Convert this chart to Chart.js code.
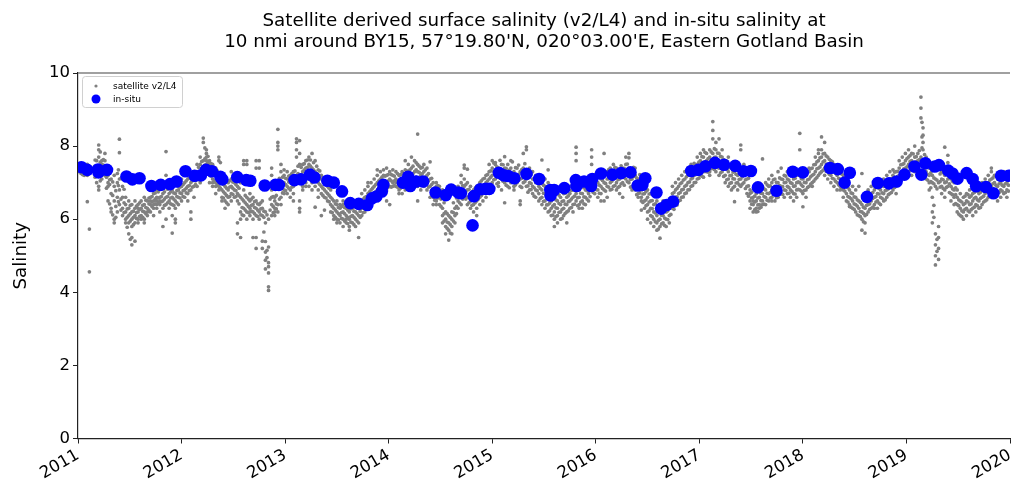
<!DOCTYPE html>
<html>
<head>
<meta charset="utf-8">
<script src="https://cdn.jsdelivr.net/npm/chart.js@4.4.1/dist/chart.umd.min.js"></script>
<style>
  html, body { margin: 0; padding: 0; background: #ffffff; }
  #wrap { width: 1011px; height: 480px; position: relative; }
  canvas { display: block; }
</style>
</head>
<body>
<div id="wrap"><canvas id="c" width="1011" height="480"></canvas></div>
<script>
// ---------------- DATA ----------------
const titleLines = [
  "Satellite derived surface salinity (v2/L4) and in-situ salinity at",
  "10 nmi around BY15, 57°19.80'N, 020°03.00'E, Eastern Gotland Basin"
];
const yLabel = "Salinity";
const seriesNames = ["satellite v2/L4", "in-situ"];
const yearTicks = [2011, 2012, 2013, 2014, 2015, 2016, 2017, 2018, 2019, 2020];
const yTicks = [0, 2, 4, 6, 8, 10];

// in-situ observations: decimal year, salinity
const insituTime = [
  2011.034, 2011.090, 2011.193, 2011.198, 2011.280, 2011.468, 2011.525, 2011.594, 2011.709, 2011.799,
  2011.888, 2011.951, 2012.038, 2012.126, 2012.187, 2012.236, 2012.293, 2012.375, 2012.394, 2012.538,
  2012.625, 2012.664, 2012.803, 2012.906, 2012.940, 2013.090, 2013.153, 2013.239, 2013.283, 2013.408,
  2013.470, 2013.549, 2013.629, 2013.711, 2013.794, 2013.838, 2013.881, 2013.934, 2013.949, 2014.137,
  2014.188, 2014.209, 2014.265, 2014.333, 2014.453, 2014.552, 2014.603, 2014.673, 2014.697, 2014.810,
  2014.822, 2014.885, 2014.938, 2014.972, 2015.064, 2015.112, 2015.154, 2015.213, 2015.331, 2015.453,
  2015.561, 2015.563, 2015.598, 2015.696, 2015.807, 2015.814, 2015.887, 2015.955, 2015.966, 2016.051,
  2016.161, 2016.244, 2016.335, 2016.405, 2016.450, 2016.478, 2016.586, 2016.631, 2016.683, 2016.746,
  2016.922, 2016.990, 2017.059, 2017.151, 2017.238, 2017.346, 2017.426, 2017.498, 2017.566, 2017.745,
  2017.902, 2017.999, 2018.263, 2018.337, 2018.403, 2018.453, 2018.619, 2018.724, 2018.831, 2018.905,
  2018.981, 2019.077, 2019.144, 2019.183, 2019.274, 2019.314, 2019.403, 2019.444, 2019.493, 2019.581,
  2019.639, 2019.673, 2019.767, 2019.840, 2019.914, 2019.987
];
const insituSal = [
  7.42, 7.35, 7.36, 7.28, 7.35, 7.17, 7.09, 7.12, 6.91, 6.94,
  6.96, 7.03, 7.31, 7.19, 7.20, 7.35, 7.31, 7.16, 7.09, 7.15,
  7.07, 7.05, 6.92, 6.94, 6.94, 7.07, 7.09, 7.22, 7.14, 7.05,
  7.00, 6.76, 6.44, 6.42, 6.39, 6.57, 6.62, 6.76, 6.94, 7.00,
  7.16, 6.91, 7.03, 7.03, 6.73, 6.66, 6.81, 6.73, 6.71, 5.83,
  6.63, 6.82, 6.83, 6.83, 7.27, 7.20, 7.18, 7.12, 7.24, 7.10,
  6.80, 6.65, 6.80, 6.85, 7.07, 6.91, 7.03, 6.91, 7.10, 7.25,
  7.22, 7.26, 7.28, 6.92, 6.94, 7.12, 6.73, 6.29, 6.39, 6.48,
  7.32, 7.35, 7.45, 7.54, 7.49, 7.46, 7.31, 7.32, 6.87, 6.78,
  7.30, 7.28, 7.40, 7.37, 7.00, 7.27, 6.61, 6.99, 6.98, 7.03,
  7.22, 7.44, 7.22, 7.53, 7.44, 7.48, 7.33, 7.25, 7.11, 7.26,
  7.10, 6.90, 6.88, 6.71, 7.19, 7.19
];

// satellite values: [decimal year, values seen around that date...]
const sat2011 = [
  [2011.00, 7.40, 7.30, 7.50], [2011.03, 7.35, 7.45, 7.25], [2011.06, 7.30, 7.40, 7.20],
  [2011.09, 7.35, 7.20, 7.50, 6.48], [2011.11, 4.56, 5.73, 7.30], [2011.18, 7.40, 7.20, 7.60, 7.00],
  [2011.20, 7.90, 8.03, 7.70, 7.30, 6.80, 6.90], [2011.23, 7.50, 7.30, 7.10, 7.60], [2011.26, 7.40, 7.60, 7.20, 7.80],
  [2011.29, 7.00, 6.90, 7.20, 6.50], [2011.32, 7.10, 6.70, 6.30, 6.20], [2011.35, 6.90, 6.50, 6.00, 5.90, 7.20],
  [2011.38, 7.00, 6.60, 6.20, 7.25], [2011.40, 8.19, 7.82, 7.10, 6.80, 6.40], [2011.43, 6.90, 6.60, 6.30, 6.10, 7.10],
  [2011.46, 6.20, 6.40, 6.00, 6.60, 5.90], [2011.49, 6.10, 5.90, 6.30, 5.60, 6.50], [2011.52, 6.00, 6.20, 5.50, 5.30, 6.40, 5.80],
  [2011.55, 6.10, 6.30, 5.90, 5.40, 6.50], [2011.58, 6.20, 6.00, 6.40, 6.30, 5.90], [2011.61, 6.10, 6.30, 6.50, 6.00],
  [2011.64, 6.20, 6.40, 6.00, 6.60, 5.90], [2011.67, 6.30, 6.10, 6.50, 6.20], [2011.70, 6.40, 6.60, 6.20, 6.50, 6.80],
  [2011.73, 6.50, 6.30, 6.70, 6.40, 6.10], [2011.76, 6.50, 6.60, 6.40, 6.80, 6.30], [2011.79, 6.60, 6.40, 6.50, 7.00, 6.20],
  [2011.82, 6.50, 6.70, 6.30, 6.90, 5.80], [2011.85, 7.85, 7.20, 6.60, 6.40, 6.00], [2011.88, 6.70, 6.50, 6.90, 6.30],
  [2011.91, 6.60, 6.40, 5.62, 6.80, 6.10], [2011.94, 6.50, 6.70, 6.30, 5.90, 6.00], [2011.97, 6.60, 6.80, 6.40, 6.90],
  [2011.015, 7.38, 7.46], [2011.045, 7.32, 7.41, 7.22], [2011.075, 7.36, 7.27], [2011.14, 7.33],
  [2011.165, 7.45, 7.15, 7.62], [2011.215, 7.56, 7.84, 7.05, 7.42], [2011.245, 7.63, 7.27, 7.48], [2011.275, 7.15, 6.85, 7.38],
  [2011.305, 6.95, 6.42, 7.08], [2011.335, 6.65, 6.12, 7.02], [2011.365, 6.78, 6.35, 6.05], [2011.39, 7.35, 6.92, 6.48],
  [2011.415, 7.12, 6.55, 6.25], [2011.445, 6.45, 6.18, 6.82], [2011.475, 6.28, 6.05, 5.78], [2011.505, 6.15, 5.95, 6.38, 5.45],
  [2011.535, 6.22, 6.05, 5.85], [2011.565, 6.18, 6.36, 6.02], [2011.595, 6.27, 6.08, 6.45], [2011.625, 6.22, 6.38, 6.05],
  [2011.655, 6.32, 6.15, 6.52], [2011.685, 6.42, 6.25, 6.58], [2011.715, 6.48, 6.62, 6.35], [2011.745, 6.55, 6.42, 6.72],
  [2011.775, 6.58, 6.45, 6.75], [2011.805, 6.62, 6.48, 6.85], [2011.835, 6.55, 6.75, 6.38], [2011.865, 6.62, 6.82, 6.45],
  [2011.895, 6.58, 6.75, 6.42], [2011.925, 6.55, 6.72, 6.38], [2011.955, 6.62, 6.78, 6.45], [2011.985, 6.72, 6.88, 6.58]
];
const sat2012 = [
  [2012.00, 6.70, 6.90, 6.50, 7.10], [2012.03, 6.80, 6.60, 7.00, 7.20], [2012.06, 6.90, 7.10, 6.70, 6.50],
  [2012.09, 7.00, 6.80, 6.00, 6.20, 7.20], [2012.12, 7.10, 6.90, 7.30, 6.60], [2012.15, 7.10, 7.30, 6.90, 7.50],
  [2012.18, 7.30, 7.50, 7.20, 7.70, 7.00], [2012.21, 8.22, 8.10, 7.40, 7.60, 7.30], [2012.24, 7.90, 7.80, 7.50, 7.60, 7.30, 7.70],
  [2012.27, 7.40, 7.60, 7.20, 7.00, 7.50], [2012.30, 7.30, 7.10, 7.50, 6.90, 7.00], [2012.33, 7.20, 7.00, 6.90, 6.70, 7.40],
  [2012.36, 7.10, 6.90, 6.80, 7.60, 7.70], [2012.39, 7.00, 6.80, 6.60, 6.50, 7.20], [2012.42, 6.90, 6.70, 6.50, 6.30, 7.10],
  [2012.45, 6.80, 7.00, 6.60, 6.40], [2012.48, 6.90, 7.10, 6.70, 6.50, 7.30], [2012.51, 6.80, 7.00, 7.20, 6.60],
  [2012.54, 6.70, 6.90, 7.10, 6.50, 5.90, 5.60], [2012.57, 6.60, 6.20, 6.00, 5.50, 7.00], [2012.60, 6.50, 6.30, 6.10, 7.50, 7.60, 6.80],
  [2012.63, 6.40, 6.20, 6.60, 7.50, 7.60, 6.00], [2012.66, 6.30, 6.50, 6.10, 6.70, 6.20], [2012.69, 6.40, 6.20, 6.60, 6.00, 5.50],
  [2012.72, 6.30, 6.10, 5.50, 5.20, 6.50, 7.40, 7.60], [2012.75, 6.20, 6.40, 6.00, 7.40, 7.60], [2012.78, 6.30, 6.10, 6.50, 5.40, 5.20],
  [2012.81, 6.20, 5.90, 5.10, 4.88, 4.64, 5.39], [2012.84, 4.81, 4.70, 4.53, 4.15, 4.05, 5.24, 6.00], [2012.87, 6.40, 6.80, 7.20, 7.40, 6.10, 6.60],
  [2012.90, 6.30, 6.50, 6.10, 6.20, 6.60], [2012.93, 8.46, 8.10, 8.00, 7.90, 6.40, 6.20], [2012.96, 7.50, 7.30, 6.90, 6.60, 6.40],
  [2012.99, 6.80, 7.00, 7.20, 6.70, 7.35],
  [2012.015, 6.78, 6.95, 6.62], [2012.045, 6.85, 7.05, 6.72], [2012.075, 6.92, 7.12, 6.78], [2012.105, 7.05, 6.88, 7.22],
  [2012.135, 7.05, 7.22, 6.95], [2012.165, 7.22, 7.42, 7.08], [2012.195, 7.38, 7.58, 7.25], [2012.225, 7.48, 7.65, 7.35, 7.95],
  [2012.255, 7.55, 7.42, 7.72], [2012.285, 7.35, 7.18, 7.52], [2012.315, 7.25, 7.05, 7.42], [2012.345, 7.15, 6.95, 7.32],
  [2012.375, 7.05, 6.85, 7.55], [2012.405, 6.95, 6.75, 6.58], [2012.435, 6.85, 6.65, 6.45], [2012.465, 6.88, 7.05, 6.62],
  [2012.495, 6.85, 7.02, 6.68], [2012.525, 6.78, 6.95, 6.62], [2012.555, 6.65, 6.42, 6.85], [2012.585, 6.55, 6.32, 6.12],
  [2012.615, 6.45, 6.25, 6.65], [2012.645, 6.35, 6.18, 6.55], [2012.675, 6.38, 6.22, 6.55], [2012.705, 6.32, 6.15, 6.48],
  [2012.735, 6.25, 6.42, 6.08], [2012.765, 6.28, 6.12, 6.45], [2012.795, 6.22, 6.05, 5.65], [2012.825, 5.15, 4.95, 6.12],
  [2012.855, 6.25, 6.55, 6.95], [2012.885, 6.35, 6.62, 6.18], [2012.915, 6.42, 6.28, 6.65], [2012.945, 6.88, 6.55, 7.12],
  [2012.975, 6.95, 6.72, 7.15]
];
const sat2013 = [
  [2013.02, 6.90, 7.10, 6.70, 7.30], [2013.05, 7.00, 6.80, 7.20, 6.60], [2013.08, 7.10, 6.90, 7.30, 6.70, 6.50],
  [2013.11, 8.20, 8.10, 7.90, 7.70, 7.20, 7.00], [2013.14, 8.15, 7.80, 7.50, 7.10, 6.30, 6.50, 6.20], [2013.17, 7.30, 7.10, 6.90, 7.50, 6.80],
  [2013.20, 7.40, 7.20, 7.00, 6.90, 7.60], [2013.23, 7.50, 7.30, 7.10, 7.70, 6.90], [2013.26, 7.40, 7.20, 7.00, 7.80, 6.80],
  [2013.29, 7.30, 7.10, 6.90, 7.60, 6.33], [2013.32, 7.20, 7.00, 6.80, 7.35, 6.60], [2013.35, 7.10, 6.90, 6.70, 7.20, 6.10],
  [2013.38, 7.00, 6.80, 6.60, 6.25], [2013.41, 6.90, 6.70, 7.10, 6.50], [2013.44, 6.40, 6.20, 6.60, 6.80],
  [2013.47, 6.30, 6.10, 6.50, 6.00], [2013.50, 6.20, 6.00, 6.40, 5.90, 6.50], [2013.53, 6.10, 6.30, 5.90, 6.40],
  [2013.56, 6.20, 6.00, 6.40, 5.80, 6.50], [2013.59, 6.10, 5.90, 6.30, 6.00], [2013.62, 6.00, 6.20, 5.80, 6.40, 5.70],
  [2013.65, 6.10, 6.30, 5.90, 6.50], [2013.68, 6.00, 6.20, 5.80, 6.40], [2013.71, 6.10, 5.50, 5.90, 6.30],
  [2013.74, 6.30, 6.50, 6.10, 6.70], [2013.77, 6.40, 6.60, 6.80, 6.20], [2013.80, 6.50, 6.70, 6.90, 6.30, 7.00],
  [2013.83, 6.60, 6.80, 7.00, 6.40], [2013.86, 6.70, 6.90, 7.10, 6.50], [2013.89, 6.80, 7.00, 7.20, 6.60, 7.35],
  [2013.92, 6.90, 7.10, 7.30, 6.70], [2013.95, 7.00, 6.90, 7.20, 7.35], [2013.98, 7.00, 7.20, 6.80, 7.40, 6.50],
  [2013.005, 6.95, 7.12, 6.78], [2013.035, 7.02, 6.85, 7.18], [2013.065, 7.05, 6.88, 7.25], [2013.095, 7.15, 6.95, 7.32],
  [2013.125, 7.25, 7.05, 7.45], [2013.155, 7.22, 7.05, 7.42], [2013.185, 7.35, 7.15, 7.52], [2013.215, 7.42, 7.22, 7.62],
  [2013.245, 7.45, 7.25, 7.62], [2013.275, 7.35, 7.15, 7.55], [2013.305, 7.25, 7.05, 7.45], [2013.335, 7.15, 6.95, 7.32],
  [2013.365, 7.05, 6.85, 6.65], [2013.395, 6.95, 6.75, 6.58], [2013.425, 6.65, 6.48, 6.85], [2013.455, 6.35, 6.18, 6.55],
  [2013.485, 6.25, 6.05, 6.42], [2013.515, 6.15, 5.98, 6.32], [2013.545, 6.18, 6.02, 6.35], [2013.575, 6.15, 5.95, 6.32],
  [2013.605, 6.05, 5.88, 6.25], [2013.635, 6.08, 5.92, 6.28], [2013.665, 6.05, 5.85, 6.22], [2013.695, 6.15, 5.95, 6.35],
  [2013.725, 6.22, 6.05, 6.42], [2013.755, 6.35, 6.18, 6.55], [2013.785, 6.45, 6.62, 6.28], [2013.815, 6.55, 6.75, 6.38],
  [2013.845, 6.65, 6.85, 6.48], [2013.875, 6.75, 6.95, 6.58], [2013.905, 6.85, 7.05, 6.68], [2013.935, 6.95, 7.15, 6.78],
  [2013.965, 7.02, 7.18, 6.85], [2013.995, 7.05, 7.22, 6.88]
];
const sat2014 = [
  [2014.01, 7.10, 6.90, 7.30, 6.40], [2014.04, 7.00, 7.20, 6.90, 7.35], [2014.07, 7.10, 6.90, 7.30, 7.00],
  [2014.10, 7.00, 7.20, 6.80, 6.70], [2014.13, 7.10, 6.90, 7.30, 6.70], [2014.16, 7.00, 7.20, 6.80, 7.35, 7.60],
  [2014.19, 7.10, 6.90, 7.30, 7.50], [2014.22, 7.70, 7.20, 7.00, 6.80, 7.40], [2014.25, 7.60, 7.30, 7.10, 6.90],
  [2014.28, 8.33, 7.50, 7.30, 7.10, 6.90, 6.50], [2014.31, 7.40, 7.20, 7.00, 6.80], [2014.34, 7.30, 7.10, 6.90, 7.50],
  [2014.37, 7.20, 7.00, 6.80, 7.40], [2014.40, 7.10, 6.90, 7.57, 6.60], [2014.43, 7.00, 6.80, 6.60, 6.40],
  [2014.46, 6.90, 6.70, 6.50, 6.40, 7.00], [2014.49, 6.80, 6.60, 6.40, 6.90], [2014.52, 6.30, 6.10, 5.90, 6.60, 6.80],
  [2014.55, 6.00, 5.80, 5.60, 6.20, 6.70], [2014.58, 5.90, 5.70, 5.43, 6.10, 6.60], [2014.61, 5.80, 6.00, 5.60, 6.20, 6.80],
  [2014.64, 6.10, 5.90, 6.30, 6.70], [2014.67, 6.50, 6.70, 6.90, 6.30], [2014.70, 6.60, 6.80, 7.00, 6.40, 7.20],
  [2014.73, 6.70, 6.90, 7.10, 7.40, 7.48], [2014.76, 6.60, 6.80, 7.00, 6.40, 7.37], [2014.79, 6.50, 6.70, 6.90, 6.30],
  [2014.82, 6.60, 6.80, 6.40, 6.20], [2014.85, 6.70, 6.90, 6.50, 6.30, 6.10], [2014.88, 6.80, 6.60, 7.00, 6.40],
  [2014.91, 6.90, 6.70, 7.10, 6.50], [2014.94, 7.00, 6.80, 7.20, 6.60], [2014.97, 7.10, 6.90, 7.30, 7.50],
  [2014.025, 7.05, 7.22, 6.88], [2014.055, 7.05, 7.18, 6.92], [2014.085, 7.05, 7.25, 6.88], [2014.115, 7.05, 7.22, 6.85],
  [2014.145, 7.05, 7.25, 6.88], [2014.175, 7.15, 7.32, 6.95], [2014.205, 7.15, 7.35, 6.98], [2014.235, 7.25, 7.45, 7.05],
  [2014.265, 7.35, 7.15, 7.55], [2014.295, 7.28, 7.08, 7.45], [2014.325, 7.25, 7.05, 7.42], [2014.355, 7.15, 6.95, 7.35],
  [2014.385, 7.05, 6.88, 7.25], [2014.415, 6.95, 6.78, 7.12], [2014.445, 6.85, 6.68, 6.52], [2014.475, 6.75, 6.58, 6.92],
  [2014.505, 6.55, 6.35, 6.75], [2014.535, 6.15, 5.95, 6.45], [2014.565, 5.92, 5.75, 6.15], [2014.595, 5.85, 5.62, 6.05],
  [2014.625, 5.95, 6.18, 6.45], [2014.655, 6.35, 6.58, 6.15], [2014.685, 6.62, 6.82, 6.45], [2014.715, 6.72, 6.92, 6.55],
  [2014.745, 6.75, 6.95, 6.55], [2014.775, 6.62, 6.82, 6.45], [2014.805, 6.55, 6.75, 6.38], [2014.835, 6.65, 6.85, 6.45],
  [2014.865, 6.75, 6.92, 6.55], [2014.895, 6.85, 7.05, 6.65], [2014.925, 6.95, 7.12, 6.75], [2014.955, 7.05, 7.22, 6.85],
  [2014.985, 7.15, 7.32, 6.95]
];
const sat2015 = [
  [2015.00, 7.20, 7.00, 7.40, 7.60], [2015.03, 7.30, 7.10, 7.50, 7.55], [2015.06, 7.20, 7.00, 7.40, 6.90],
  [2015.09, 7.30, 7.10, 7.50, 6.80], [2015.12, 7.20, 7.00, 7.40, 7.71, 6.45], [2015.15, 7.10, 6.90, 7.30, 7.50],
  [2015.18, 7.20, 7.00, 7.40, 7.60], [2015.21, 7.10, 6.90, 7.30, 6.80], [2015.24, 7.20, 7.00, 7.40, 7.10],
  [2015.27, 7.10, 6.90, 7.30, 6.50, 6.40], [2015.30, 7.20, 7.00, 7.40, 7.80], [2015.33, 7.10, 6.90, 7.30, 7.98, 7.90],
  [2015.36, 7.00, 6.80, 7.20, 7.40], [2015.39, 6.90, 7.10, 6.70, 7.30], [2015.42, 7.00, 6.80, 6.60, 7.20],
  [2015.45, 6.90, 6.70, 7.10, 6.50], [2015.48, 6.80, 7.00, 6.60, 7.62, 6.40], [2015.51, 6.70, 6.90, 6.50, 7.10, 6.30],
  [2015.54, 6.60, 6.80, 6.40, 7.00, 6.20, 7.35], [2015.57, 6.50, 6.70, 6.30, 6.10, 6.90], [2015.60, 6.40, 6.60, 6.20, 6.00, 5.80],
  [2015.63, 6.30, 6.50, 6.10, 5.90, 6.70], [2015.66, 6.40, 6.60, 6.20, 6.00, 6.80], [2015.69, 6.30, 6.50, 6.70, 6.10],
  [2015.72, 6.40, 6.60, 6.80, 6.20, 5.90], [2015.75, 6.50, 6.70, 6.30, 6.90], [2015.78, 6.60, 6.40, 6.80, 6.20],
  [2015.81, 7.97, 7.80, 7.60, 6.70, 6.50, 6.90], [2015.84, 6.60, 6.80, 6.40, 7.00, 6.30], [2015.87, 6.70, 6.90, 6.50, 6.30],
  [2015.90, 6.60, 6.80, 6.40, 7.00], [2015.93, 6.70, 6.90, 6.50, 7.10], [2015.96, 7.90, 7.70, 7.50, 6.80, 7.00],
  [2015.99, 6.90, 7.10, 6.70, 7.20],
  [2015.015, 7.31, 7.08, 7.54], [2015.045, 7.19, 7.43, 6.97], [2015.075, 7.36, 7.12, 7.61], [2015.105, 7.04, 7.27, 7.49],
  [2015.135, 7.21, 6.93, 7.39], [2015.165, 7.11, 7.34, 6.86], [2015.195, 7.26, 7.02, 7.57], [2015.225, 6.94, 7.17, 7.41],
  [2015.255, 7.23, 7.06, 7.48], [2015.285, 7.12, 6.87, 7.36], [2015.315, 7.03, 7.27, 7.52], [2015.345, 7.14, 6.91, 6.74],
  [2015.375, 6.98, 7.22, 6.81], [2015.405, 6.86, 7.09, 6.63], [2015.435, 7.01, 6.78, 7.19], [2015.465, 6.84, 6.57, 7.08],
  [2015.495, 6.71, 6.93, 6.49], [2015.525, 6.62, 6.39, 6.88], [2015.555, 6.44, 6.71, 6.23], [2015.585, 6.36, 6.58, 6.11],
  [2015.615, 6.31, 6.07, 6.53], [2015.645, 6.43, 6.19, 6.66], [2015.675, 6.27, 6.49, 6.02], [2015.705, 6.41, 6.16, 6.71],
  [2015.735, 6.48, 6.23, 6.64], [2015.765, 6.55, 6.32, 6.79], [2015.795, 6.63, 6.41, 6.87], [2015.825, 6.59, 6.82, 6.37],
  [2015.855, 6.71, 6.47, 6.94], [2015.885, 6.61, 6.86, 6.42], [2015.915, 6.78, 6.55, 7.03], [2015.945, 6.84, 6.62, 7.09],
  [2015.975, 6.97, 6.73, 7.19]
];
const sat2016 = [
  [2016.02, 7.00, 6.80, 7.20, 6.60], [2016.05, 6.90, 7.10, 6.70, 6.50], [2016.08, 7.00, 6.80, 7.20, 6.50, 7.80],
  [2016.11, 7.10, 6.90, 7.30, 6.60], [2016.14, 7.00, 7.20, 6.80, 7.40], [2016.17, 7.10, 6.90, 7.30, 7.50],
  [2016.20, 7.00, 7.20, 7.40, 6.80], [2016.23, 7.10, 7.30, 6.90, 6.70], [2016.26, 7.20, 7.00, 7.40, 6.60],
  [2016.29, 7.30, 7.10, 7.50, 7.70], [2016.32, 7.20, 7.00, 7.40, 7.80, 7.68], [2016.35, 7.10, 6.90, 7.30, 6.80],
  [2016.38, 7.00, 6.80, 7.20, 7.40], [2016.41, 6.90, 7.10, 6.70, 6.60], [2016.44, 6.80, 7.00, 6.60, 6.50, 6.25],
  [2016.47, 6.70, 6.90, 6.50, 6.30], [2016.50, 6.60, 6.40, 6.20, 6.00, 6.80], [2016.53, 6.50, 6.30, 6.10, 5.90, 6.70],
  [2016.56, 6.20, 6.00, 5.80, 6.40], [2016.59, 6.10, 5.90, 5.70, 6.30, 6.50], [2016.62, 6.00, 5.80, 5.48, 6.20, 6.40],
  [2016.65, 6.10, 5.90, 6.30, 6.50], [2016.68, 6.20, 6.00, 6.40, 5.80], [2016.71, 6.30, 6.10, 6.50, 5.90],
  [2016.74, 6.50, 6.70, 6.30, 6.90], [2016.77, 6.60, 6.80, 6.40, 7.00], [2016.80, 6.70, 6.90, 7.10, 6.50],
  [2016.83, 6.80, 7.00, 7.20, 6.60], [2016.86, 6.90, 7.10, 7.30, 6.70], [2016.89, 7.00, 7.20, 7.40, 6.80],
  [2016.92, 7.10, 7.30, 7.50, 6.90], [2016.95, 7.20, 7.40, 7.53, 7.00], [2016.98, 7.30, 7.50, 7.70, 7.10],
  [2016.005, 7.03, 6.81, 7.26], [2016.035, 6.93, 7.16, 6.71], [2016.065, 7.06, 6.84, 7.31], [2016.095, 6.98, 7.22, 6.77],
  [2016.125, 7.11, 6.88, 7.36], [2016.155, 7.04, 7.28, 6.82], [2016.185, 7.14, 6.92, 7.42], [2016.215, 7.08, 7.33, 6.87],
  [2016.245, 7.21, 6.97, 7.46], [2016.275, 7.14, 7.39, 6.93], [2016.305, 7.28, 7.03, 7.51], [2016.335, 7.09, 7.34, 6.88],
  [2016.365, 7.17, 6.94, 7.42], [2016.395, 6.89, 7.13, 6.67], [2016.425, 6.96, 6.72, 7.22], [2016.455, 6.69, 6.93, 6.46],
  [2016.485, 6.76, 6.53, 6.37], [2016.515, 6.47, 6.23, 6.69], [2016.545, 6.29, 6.07, 6.51], [2016.575, 6.17, 5.93, 6.42],
  [2016.605, 5.97, 6.22, 5.73], [2016.635, 6.11, 5.87, 6.37], [2016.665, 6.03, 6.26, 5.83], [2016.695, 6.23, 6.47, 5.99],
  [2016.725, 6.37, 6.59, 6.13], [2016.755, 6.49, 6.73, 6.27], [2016.785, 6.61, 6.84, 6.39], [2016.815, 6.73, 6.97, 6.52],
  [2016.845, 6.82, 7.07, 6.61], [2016.875, 6.93, 7.16, 6.72], [2016.905, 7.02, 7.28, 6.81], [2016.935, 7.13, 7.36, 6.92],
  [2016.965, 7.22, 7.47, 7.01], [2016.995, 7.33, 7.56, 7.12]
];
const sat2017 = [
  [2017.01, 7.40, 7.60, 7.80, 7.20], [2017.04, 7.30, 7.50, 7.70, 7.90, 7.15], [2017.07, 7.40, 7.60, 7.80, 7.30],
  [2017.10, 7.50, 7.70, 7.90, 7.30, 7.20], [2017.13, 8.67, 8.43, 8.20, 7.60, 7.40, 7.80], [2017.16, 7.70, 7.50, 7.90, 8.10, 7.30],
  [2017.19, 7.60, 7.80, 8.20, 7.40, 7.20], [2017.22, 7.50, 7.70, 7.30, 7.90], [2017.25, 7.40, 7.60, 7.20, 7.00],
  [2017.28, 7.30, 7.50, 7.10, 6.90, 7.70], [2017.31, 7.20, 7.00, 6.80, 7.40], [2017.34, 7.10, 6.90, 7.30, 6.48],
  [2017.37, 7.20, 7.00, 7.40, 6.80], [2017.40, 7.30, 7.10, 6.90, 8.03, 7.90], [2017.43, 7.20, 7.00, 7.50, 7.40],
  [2017.46, 7.10, 6.90, 7.30, 6.70], [2017.49, 6.70, 6.50, 6.30, 6.80], [2017.52, 6.60, 6.40, 6.20, 6.50],
  [2017.55, 6.50, 6.30, 6.70, 6.20], [2017.58, 6.40, 6.60, 6.30, 6.80], [2017.61, 6.50, 6.70, 6.90, 6.40, 7.65],
  [2017.64, 6.60, 6.80, 7.00, 6.40], [2017.67, 6.70, 6.90, 7.10, 6.50], [2017.70, 6.80, 7.00, 7.20, 6.60, 6.50],
  [2017.73, 6.90, 6.70, 7.10, 6.50], [2017.76, 6.80, 7.00, 6.60, 7.30], [2017.79, 6.90, 7.10, 6.70, 7.40],
  [2017.82, 7.00, 6.80, 7.20, 6.60], [2017.85, 6.90, 7.10, 6.70, 7.30], [2017.88, 7.00, 6.80, 7.20, 6.60],
  [2017.91, 6.90, 7.10, 6.70, 7.30, 6.50], [2017.94, 7.00, 6.80, 7.20, 6.60], [2017.97, 8.35, 7.90, 7.00, 6.80, 7.20],
  [2017.025, 7.44, 7.71, 7.18], [2017.055, 7.31, 7.57, 7.83], [2017.085, 7.52, 7.29, 7.66], [2017.115, 7.61, 7.84, 7.38],
  [2017.145, 7.69, 7.36, 7.93], [2017.175, 7.58, 7.81, 7.42], [2017.205, 7.49, 7.27, 7.72], [2017.235, 7.39, 7.63, 7.17],
  [2017.265, 7.37, 7.08, 7.59], [2017.295, 7.19, 7.41, 6.98], [2017.325, 7.11, 6.86, 7.29], [2017.355, 7.23, 6.99, 7.38],
  [2017.385, 7.31, 7.09, 6.94], [2017.415, 7.16, 7.42, 6.96], [2017.445, 7.08, 7.29, 6.84], [2017.475, 6.91, 6.63, 7.12],
  [2017.505, 6.58, 6.41, 6.74], [2017.535, 6.47, 6.26, 6.63], [2017.565, 6.39, 6.58, 6.21], [2017.595, 6.51, 6.33, 6.71],
  [2017.625, 6.62, 6.41, 6.83], [2017.655, 6.71, 6.52, 6.94], [2017.685, 6.73, 6.91, 6.58], [2017.715, 6.86, 6.67, 7.08],
  [2017.745, 6.81, 7.01, 6.59], [2017.775, 6.92, 6.71, 7.13], [2017.805, 6.89, 7.09, 6.68], [2017.835, 7.01, 6.79, 7.18],
  [2017.865, 6.87, 7.07, 6.71], [2017.895, 6.98, 6.76, 7.19], [2017.925, 6.91, 7.12, 6.69], [2017.955, 7.02, 6.82, 7.23],
  [2017.985, 6.94, 7.11, 6.77]
];
const sat2018 = [
  [2018.00, 6.90, 7.10, 6.70, 7.30, 6.34], [2018.03, 7.00, 6.80, 7.20, 6.60], [2018.06, 7.10, 6.90, 7.30, 7.40],
  [2018.09, 7.20, 7.00, 7.40, 6.90], [2018.12, 7.30, 7.10, 7.50, 7.70], [2018.15, 7.40, 7.60, 7.80, 7.20, 7.90],
  [2018.18, 7.50, 7.70, 7.30, 7.90, 8.25], [2018.21, 7.60, 7.40, 7.80, 8.10, 7.20], [2018.24, 7.50, 7.30, 7.70, 7.10],
  [2018.27, 7.40, 7.20, 7.60, 7.00], [2018.30, 7.30, 7.10, 7.50, 6.90], [2018.33, 7.20, 7.00, 7.40, 6.80],
  [2018.36, 7.10, 6.90, 7.30, 6.80], [2018.39, 7.00, 6.80, 7.20, 6.60], [2018.42, 6.90, 6.70, 6.50, 7.07],
  [2018.45, 6.80, 6.60, 6.40, 6.35], [2018.48, 6.70, 6.50, 6.90, 6.30], [2018.51, 6.60, 6.40, 6.20, 6.80],
  [2018.54, 6.50, 6.30, 6.10, 6.90], [2018.57, 6.40, 6.20, 6.00, 5.70, 7.25], [2018.60, 6.30, 6.10, 5.90, 5.62, 6.60],
  [2018.63, 6.40, 6.20, 6.60, 6.80], [2018.66, 6.50, 6.30, 6.70, 6.90], [2018.69, 6.60, 6.40, 6.80, 6.30],
  [2018.72, 6.70, 6.50, 6.90, 6.30], [2018.75, 6.60, 6.80, 6.40, 7.00], [2018.78, 6.70, 6.90, 6.50, 7.10],
  [2018.81, 6.80, 7.00, 6.60, 7.20], [2018.84, 6.90, 7.10, 6.70, 7.30], [2018.87, 7.00, 7.20, 6.80, 7.35],
  [2018.90, 7.10, 6.90, 7.30, 6.70], [2018.93, 7.20, 7.00, 7.40, 7.60], [2018.96, 7.30, 7.50, 7.10, 7.70],
  [2018.99, 7.40, 7.60, 7.20, 7.80],
  [2018.015, 7.01, 6.79, 7.18], [2018.045, 7.08, 7.29, 6.87], [2018.075, 7.16, 6.96, 7.38], [2018.105, 7.23, 7.49, 7.04],
  [2018.135, 7.38, 7.14, 7.57], [2018.165, 7.43, 7.68, 7.26], [2018.195, 7.57, 7.34, 7.79], [2018.225, 7.51, 7.73, 7.31],
  [2018.255, 7.46, 7.23, 7.64], [2018.285, 7.33, 7.57, 7.12], [2018.315, 7.26, 7.04, 7.43], [2018.345, 7.12, 7.36, 6.94],
  [2018.375, 7.06, 6.83, 7.24], [2018.405, 6.93, 7.16, 6.77], [2018.435, 6.86, 6.62, 6.47], [2018.465, 6.72, 6.56, 6.33],
  [2018.495, 6.61, 6.42, 6.27], [2018.525, 6.53, 6.36, 6.12], [2018.555, 6.46, 6.21, 6.07], [2018.585, 6.33, 6.16, 5.93],
  [2018.615, 6.38, 6.13, 6.54], [2018.645, 6.42, 6.27, 6.66], [2018.675, 6.57, 6.33, 6.73], [2018.705, 6.62, 6.47, 6.87],
  [2018.735, 6.69, 6.44, 6.84], [2018.765, 6.72, 6.57, 6.96], [2018.795, 6.78, 6.53, 6.94], [2018.825, 6.83, 6.67, 7.09],
  [2018.855, 6.97, 6.73, 7.11], [2018.885, 7.03, 6.87, 7.29], [2018.915, 7.17, 6.93, 7.31], [2018.945, 7.23, 7.07, 7.49],
  [2018.975, 7.38, 7.13, 7.52]
];
const sat2019 = [
  [2019.02, 7.50, 7.70, 7.30, 7.90], [2019.05, 7.60, 7.40, 7.80, 7.20], [2019.08, 7.50, 7.70, 7.30, 8.00],
  [2019.11, 7.60, 7.40, 7.80, 7.20], [2019.14, 9.34, 9.04, 8.77, 7.50, 7.70], [2019.16, 8.50, 8.30, 8.10, 7.90, 7.60, 7.30],
  [2019.19, 7.50, 7.30, 7.70, 7.10], [2019.22, 7.40, 7.20, 7.00, 6.80], [2019.25, 6.60, 6.20, 5.90, 7.20, 7.00],
  [2019.28, 5.60, 5.30, 5.00, 4.75, 7.10, 6.90], [2019.31, 5.50, 5.20, 4.90, 5.80, 7.00], [2019.34, 7.10, 6.90, 7.30, 6.70],
  [2019.37, 7.00, 7.20, 6.80, 6.60, 7.97], [2019.40, 7.10, 6.90, 7.30, 7.75, 7.55], [2019.43, 6.90, 6.70, 7.10, 6.50],
  [2019.46, 6.80, 6.60, 7.00, 6.40], [2019.49, 6.60, 6.40, 6.20, 6.80], [2019.52, 6.50, 6.30, 6.10, 6.70],
  [2019.55, 6.40, 6.20, 6.60, 6.00], [2019.58, 6.50, 6.30, 6.70, 6.10], [2019.61, 6.40, 6.60, 6.20, 6.80],
  [2019.64, 6.50, 6.30, 6.70, 6.10], [2019.67, 6.60, 6.40, 6.80, 6.20], [2019.70, 6.50, 6.70, 6.30, 6.90],
  [2019.73, 6.60, 6.80, 6.40, 7.00], [2019.76, 6.70, 6.90, 6.50, 7.10], [2019.79, 6.80, 7.00, 6.60, 7.20],
  [2019.82, 6.90, 7.10, 6.70, 7.30, 7.40], [2019.85, 7.00, 6.80, 7.20, 6.60], [2019.88, 6.90, 7.10, 6.70, 6.50],
  [2019.91, 7.00, 6.80, 7.20, 6.60], [2019.94, 6.90, 7.10, 6.70, 7.30], [2019.97, 7.00, 6.80, 6.60, 7.20],
  [2019.005, 7.43, 7.27, 7.66], [2019.035, 7.58, 7.33, 7.74], [2019.065, 7.51, 7.38, 7.79], [2019.095, 7.57, 7.32, 7.71],
  [2019.125, 7.63, 7.46, 7.88], [2019.15, 8.65, 8.25, 7.95], [2019.175, 7.53, 7.36, 7.77], [2019.205, 7.46, 7.23, 7.07],
  [2019.235, 7.27, 7.03, 6.86], [2019.265, 7.13, 6.97, 6.38, 6.05], [2019.295, 7.07, 6.83, 5.45, 5.12], [2019.325, 7.03, 6.88, 7.24],
  [2019.355, 7.08, 6.84, 7.27], [2019.385, 7.02, 6.87, 7.23], [2019.415, 6.97, 6.73, 7.16], [2019.445, 6.83, 6.67, 7.04],
  [2019.475, 6.67, 6.43, 6.86], [2019.505, 6.53, 6.37, 6.14], [2019.535, 6.47, 6.23, 6.07], [2019.565, 6.43, 6.27, 6.63],
  [2019.595, 6.47, 6.23, 6.67], [2019.625, 6.42, 6.26, 6.64], [2019.655, 6.57, 6.33, 6.73], [2019.685, 6.53, 6.37, 6.77],
  [2019.715, 6.57, 6.32, 6.74], [2019.745, 6.63, 6.47, 6.87], [2019.775, 6.77, 6.53, 6.93], [2019.805, 6.83, 6.67, 7.07],
  [2019.835, 6.97, 6.73, 7.13], [2019.865, 6.93, 6.77, 7.17], [2019.895, 6.97, 6.73, 7.13], [2019.925, 6.93, 6.77, 7.17],
  [2019.955, 6.97, 6.73, 7.13], [2019.985, 6.93, 6.77, 7.17]
];

// ---------------- BUILD ----------------
const satRows = [].concat(sat2011, sat2012, sat2013, sat2014, sat2015, sat2016, sat2017, sat2018, sat2019);
const satPoints = [];
satRows.forEach(function (row) {
  for (let i = 1; i < row.length; i++) satPoints.push({ x: row[0], y: row[i] });
});
const insituPoints = insituTime.map(function (t, i) { return { x: t, y: insituSal[i] }; });

const FONT = "'DejaVu Sans', 'Liberation Sans', sans-serif";
const SAT_COLOR = '#808080';
const INSITU_COLOR = '#0000ff';

// stretch the plot area to the right edge of the figure (as in the original)
const areaPlugin = {
  id: 'area',
  afterLayout: function (chart) {
    const R = chart.width - 1;
    const a = chart.chartArea;
    a.right = R;
    a.width = R - a.left;
    const xs = chart.scales.x;
    xs.right = R;
    xs.width = R - xs.left;
    xs.configure();
  }
};

const decorPlugin = {
  id: 'decor',
  afterDraw: function (chart) {
    const ctx = chart.ctx;
    const a = chart.chartArea;
    ctx.save();
    ctx.strokeStyle = '#808080';
    ctx.lineWidth = 1.5;
    ctx.beginPath();
    ctx.moveTo(a.left, a.top);
    ctx.lineTo(a.right, a.top);
    ctx.stroke();
    ctx.fillStyle = '#000';
    ctx.font = '18.3px ' + FONT;
    ctx.textAlign = 'center';
    ctx.textBaseline = 'alphabetic';
    const cx = (a.left + a.right) / 2;
    ctx.fillText(titleLines[0], cx, 26);
    ctx.fillText(titleLines[1], cx, 46.7);
    const lx = a.left + 4.5, ly = a.top + 3.5, lw = 100, lh = 31;
    ctx.beginPath();
    if (ctx.roundRect) ctx.roundRect(lx, ly, lw, lh, 3); else ctx.rect(lx, ly, lw, lh);
    ctx.fillStyle = 'rgba(255,255,255,0.8)';
    ctx.fill();
    ctx.strokeStyle = '#d0d0d0';
    ctx.lineWidth = 1;
    ctx.stroke();
    ctx.font = '9px ' + FONT;
    ctx.textAlign = 'left';
    ctx.textBaseline = 'middle';
    ctx.fillStyle = SAT_COLOR;
    ctx.beginPath(); ctx.arc(lx + 13.5, ly + 9.5, 1.6, 0, Math.PI * 2); ctx.fill();
    ctx.fillStyle = '#000';
    ctx.fillText(seriesNames[0], lx + 30.5, ly + 9.8);
    ctx.fillStyle = INSITU_COLOR;
    ctx.beginPath(); ctx.arc(lx + 13.5, ly + 22.5, 4.5, 0, Math.PI * 2); ctx.fill();
    ctx.fillStyle = '#000';
    ctx.fillText(seriesNames[1], lx + 30.5, ly + 22.8);
    ctx.restore();
  }
};

new Chart(document.getElementById('c'), {
  type: 'scatter',
  data: {
    datasets: [
      {
        label: seriesNames[1],
        data: insituPoints,
        backgroundColor: INSITU_COLOR,
        borderWidth: 0,
        pointRadius: 6.3,
        pointHoverRadius: 6.3,
        order: 0
      },
      {
        label: seriesNames[0],
        data: satPoints,
        backgroundColor: SAT_COLOR,
        borderWidth: 0,
        pointRadius: 1.85,
        pointHoverRadius: 1.85,
        order: 1
      }
    ]
  },
  options: {
    responsive: false,
    animation: false,
    events: [],
    layout: { padding: { top: 73, left: 0, right: 1, bottom: 0 } },
    plugins: {
      legend: { display: false },
      title: { display: false },
      tooltip: { enabled: false }
    },
    scales: {
      x: {
        type: 'linear',
        min: yearTicks[0],
        max: yearTicks[yearTicks.length - 1],
        afterBuildTicks: function (scale) { scale.ticks = yearTicks.map(function (v) { return { value: v }; }); },
        afterFit: function (scale) { scale.height = 41.5; scale.paddingLeft = 0; scale.paddingRight = 0; },
        ticks: {
          callback: function (v) { return String(v); },
          minRotation: 30,
          maxRotation: 30,
          autoSkip: false,
          padding: 2,
          color: '#000',
          font: { family: FONT, size: 16.5 }
        },
        grid: { drawOnChartArea: false, drawTicks: true, tickLength: 5, color: '#222', lineWidth: 1 },
        border: { display: true, color: '#222', width: 1.2 }
      },
      y: {
        min: 0,
        max: 10,
        afterBuildTicks: function (scale) { scale.ticks = yTicks.map(function (v) { return { value: v }; }); },
        afterFit: function (scale) { scale.width = 78; scale.paddingTop = 0; scale.paddingBottom = 0; },
        ticks: {
          callback: function (v) { return String(v); },
          padding: 3,
          color: '#000',
          font: { family: FONT, size: 16.5 }
        },
        title: {
          display: true,
          text: yLabel,
          color: '#000',
          font: { family: FONT, size: 18.3 },
          padding: { top: 10, bottom: 6 }
        },
        grid: { drawOnChartArea: false, drawTicks: true, tickLength: 5, color: '#222', lineWidth: 1 },
        border: { display: true, color: '#222', width: 1.2 }
      }
    }
  },
  plugins: [areaPlugin, decorPlugin]
});
</script>
</body>
</html>
